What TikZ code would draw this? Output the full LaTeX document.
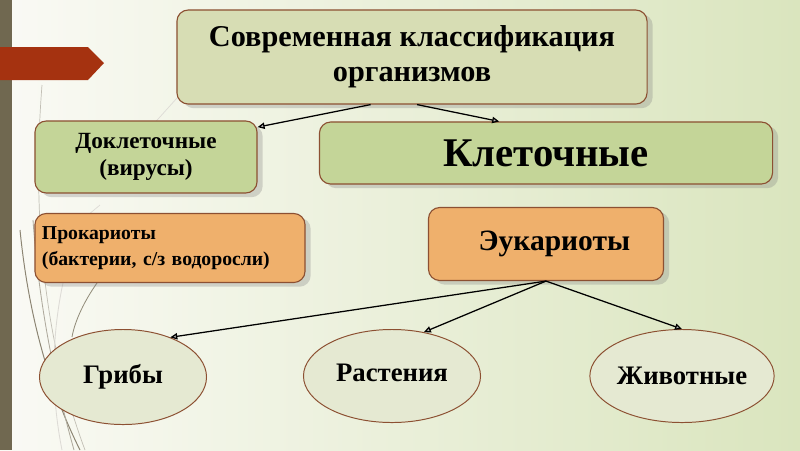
\documentclass[tikz,border=0pt]{standalone}
\usepackage{fontspec}
\setmainfont{Liberation Serif}
\usepackage{tikz}
\usetikzlibrary{arrows.meta,shapes.geometric,shadows,positioning}
\definecolor{slideBar}  {RGB}{112,104, 80}
\definecolor{slideRed}  {RGB}{165, 50, 16}
\definecolor{bgLight}   {RGB}{250,250,245}
\definecolor{bgGreen}   {RGB}{218,229,190}
\definecolor{topFill}   {RGB}{215,221,180}
\definecolor{greenFill} {RGB}{196,213,152}
\definecolor{orangeFill}{RGB}{239,176,108}
\definecolor{ovalFill}  {RGB}{229,233,210}
\definecolor{edgeBrown} {RGB}{140, 80, 50}
\definecolor{grassColor}{RGB}{120,112, 90}

\begin{document}
\begin{tikzpicture}[x=0.025cm,y=-0.025cm,
    box/.style={draw=edgeBrown,line width=0.8pt,rounded corners=8pt,
      font=\bfseries,align=center,inner sep=4pt,
      drop shadow={shadow xshift=4pt,shadow yshift=-3pt,opacity=.3,fill=gray}},
    oval/.style={ellipse,draw=edgeBrown,line width=0.7pt,fill=ovalFill,
      inner sep=0pt,font=\bfseries\fontsize{19}{22}\selectfont},
    link/.style={-{Triangle[length=5pt,width=4.5pt,fill=gray!60]},
      line width=0.9pt,black}]
  \useasboundingbox (0,0) rectangle (800,450);

  % fundo
  \shade[left color=bgLight,right color=bgGreen] (0,0) rectangle (800,450);
  \fill[slideBar] (0,0) rectangle (12,450);
  \fill[slideRed] (0,47) -- (88,47) -- (104,63) -- (88,80) -- (0,80) -- cycle;

  % capim decorativo
  \draw[grassColor!45,line width=0.5pt] (42,85) .. controls (33,200) and (40,330) .. (85,450);
  \draw[grassColor!85,line width=0.7pt] (20,230) .. controls (30,330) and (55,400) .. (80,450);
  \draw[grassColor!60,line width=0.6pt] (33,220) .. controls (40,320) and (60,400) .. (74,450);
  \draw[grassColor!25,line width=0.6pt] (63,283) .. controls (55,320) and (48,380) .. (62,450);
  \draw[grassColor!80,line width=0.6pt] (97,283) .. controls (85,300) and (75,320) .. (72,337);
  \draw[grassColor!25,line width=0.5pt] (177,98) -- (150,128);
  \draw[grassColor!25,line width=0.5pt] (100,205) -- (88,215);

  % caixas
  \node[box,fill=topFill,minimum width=11.75cm,minimum height=2.35cm,
    font=\bfseries\fontsize{21.5}{25}\selectfont] (modern) at (412,57)
    {Современная классификация\\организмов};
  \node[box,fill=greenFill,minimum width=5.55cm,minimum height=1.8cm,
    font=\bfseries\fontsize{16.5}{19}\selectfont] (precell) at (146,157)
    {Доклеточные\\(вирусы)};
  \node[box,fill=greenFill,minimum width=11.325cm,minimum height=1.55cm,
    font=\bfseries\fontsize{29}{32}\selectfont] (cell) at (546,153)
    {Клеточные};
  \node[box,fill=orangeFill,minimum width=6.75cm,minimum height=1.725cm,
    text width=6.4cm,align=left,
    font=\bfseries\fontsize{14}{18}\selectfont] (prok) at (170,248)
    {Прокариоты\\(бактерии, с/з водоросли)};
  \node[box,fill=orangeFill,minimum width=5.875cm,minimum height=1.825cm,
    font=\bfseries\fontsize{21}{24}\selectfont] (euk) at (546,244)
    {\hspace*{12pt}Эукариоты};

  % reinos
  \node[oval,minimum width=4.175cm,minimum height=2.375cm] (fungi) at (123,377) {Грибы};
  \node[oval,minimum width=4.425cm,minimum height=2.325cm] (plants) at (392,376)
    {\raisebox{4pt}{Растения}};
  \node[oval,minimum width=4.25cm,minimum height=2.325cm] (animals) at (682,376) {Животные};

  % ligacoes
  \draw[link] (modern.229.6) -- (precell.15);
  \draw[link] (modern.276) -- (cell.146);
  \draw[link] (euk.south) -- (fungi.40);
  \draw[link] (euk.south) -- (plants.54);
  \draw[link] (euk.south) -- (animals.north);
\end{tikzpicture}
\end{document}
